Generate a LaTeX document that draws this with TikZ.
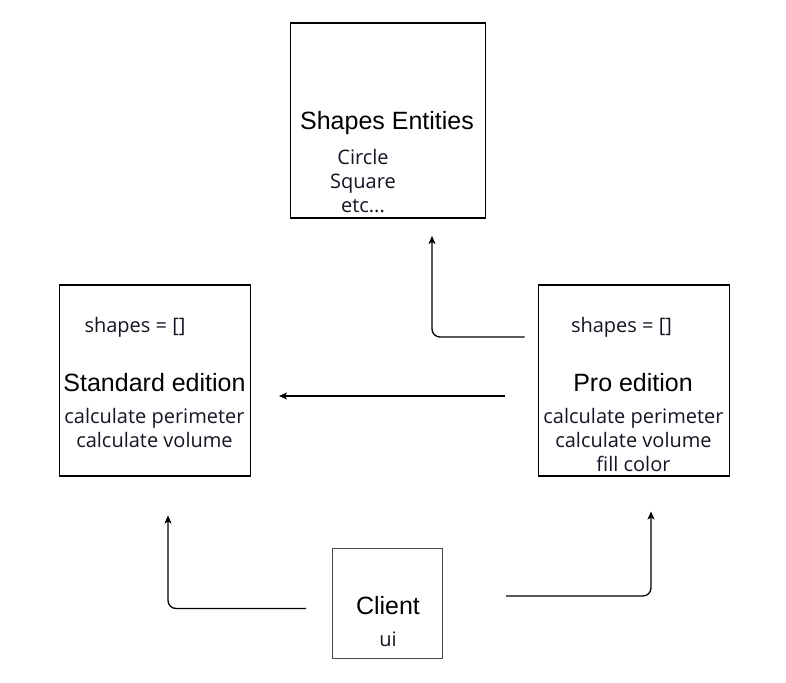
\documentclass[tikz,border=0pt]{standalone}
\usepackage{fontspec}
\setmainfont{Liberation Sans}
\newfontfamily\subfont{Open Sans}
\usetikzlibrary{arrows.meta}
\definecolor{clientgray}{RGB}{70,70,70}
\definecolor{subtext}{RGB}{20,20,35}
\tikzset{
  box/.style={draw=black,line width=1.3pt,minimum width=#1,minimum height=#1,inner sep=0pt},
  box/.default=191pt,
  ttl/.style={font=\fontsize{25}{29}\selectfont,inner sep=0pt},
  sub/.style={font=\subfont\fontsize{20}{24}\selectfont,text=subtext,align=center,inner sep=0pt},
  arr/.style={line width=1.3pt,rounded corners=8pt,-{Stealth[length=8pt,width=7pt,inset=2pt]}}
}
\begin{document}
\begin{tikzpicture}[x=1pt,y=-1pt]
\useasboundingbox (0,0) rectangle (786,682);
% boxes
\node[box=195pt] (shapes) at (388,120.5) {};
\node[box] (standard) at (155,380.5) {};
\node[box] (pro) at (634,380.5) {};
\node[box=109.5pt,draw=clientgray] (client) at (387.5,603.5) {};
% texts
\node[ttl] (shapesT) at (387,123) {Shapes Entities};
\node[sub] (shapesS) at (363,181.5) {Circle\\Square\\etc...};
\node[sub] (stdArr) at (135,327) {shapes = []};
\node[ttl] (stdT) at (154.5,383) {Standard edition};
\node[sub] (stdS) at (154.5,427.5) {calculate perimeter\\calculate volume};
\node[sub] (proArr) at (621.5,327) {shapes = []};
\node[ttl] (proT) at (633,383) {Pro edition};
\node[sub] (proS) at (633.5,439.5) {calculate perimeter\\calculate volume\\fill color};
\node[ttl] (clientT) at (388,606) {Client};
\node[sub] (clientS) at (388,639) {ui};
% connector end points
\coordinate (p1) at (524.5,337);
\coordinate (t1) at (432,236);
\coordinate (p2) at (505,396);
\coordinate (t2) at (279,396);
\coordinate (c1) at (306,608.5);
\coordinate (t3) at (168,515.5);
\coordinate (c2) at (506,596);
\coordinate (t4) at (651,511.5);
% connectors
\draw[arr] (p1) -| (t1);
\draw[arr] (p2) -- (t2);
\draw[arr] (c1) -| (t3);
\draw[arr] (c2) -| (t4);
\end{tikzpicture}
\end{document}
